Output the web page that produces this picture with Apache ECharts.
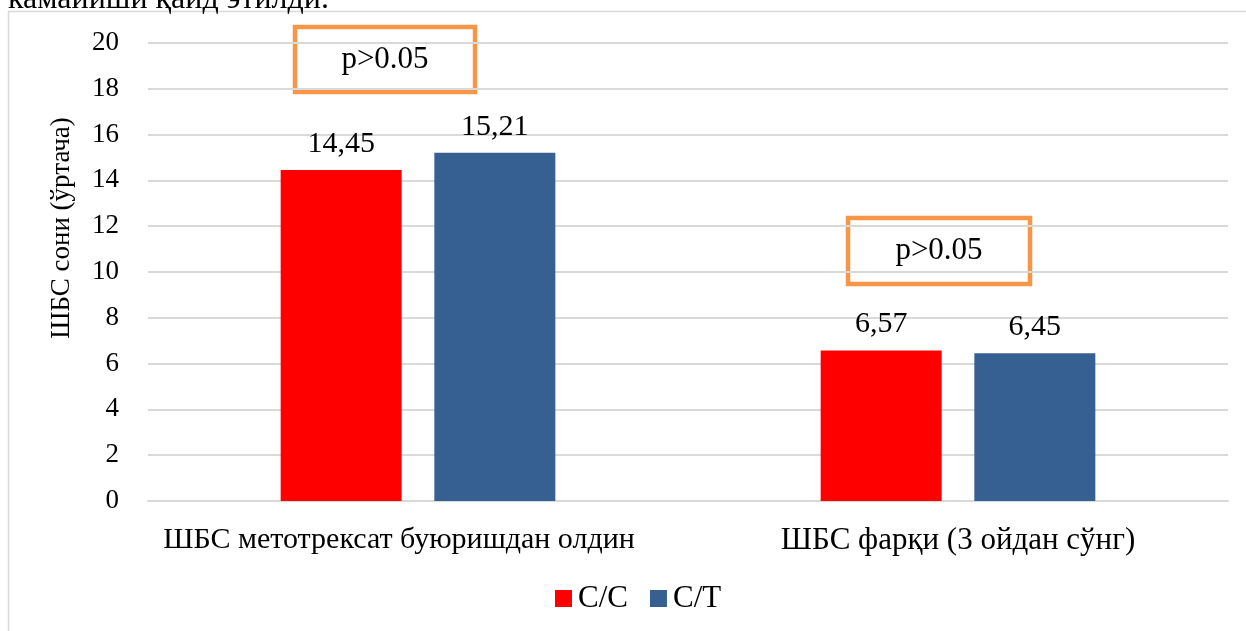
<!DOCTYPE html>
<html><head><meta charset="utf-8">
<script src="https://cdn.jsdelivr.net/npm/echarts@6/dist/echarts.min.js"></script>
<style>html,body{margin:0;padding:0;background:#fff}#c{width:1246px;height:631px}</style>
</head><body><div id="c"></div>
<script>
var categories = ['ШБС метотрексат буюришдан олдин', 'ШБС фарқи (3 ойдан сўнг)'];
var seriesNames = ['C/C', 'C/T'];
var valuesCC = [14.45, 6.57];
var valuesCT = [15.21, 6.45];
var yTicks = [0, 2, 4, 6, 8, 10, 12, 14, 16, 18, 20];
var pLabels = ['p>0.05', 'p>0.05'];

var F = 'Liberation Serif, Times New Roman, serif';
var chart = echarts.init(document.getElementById('c'));
function fmt(p){ return String(p.value).replace('.', ','); }
chart.setOption({
  animation: false,
  backgroundColor: '#fff',
  textStyle: { fontFamily: F },
  grid: { left: 148, right: 18, top: 43, bottom: 130 },
  legend: {
    data: seriesNames, bottom: 12, left: 550, itemWidth: 17, itemHeight: 17, itemGap: 22,
    icon: 'rect',
    textStyle: { fontFamily: F, fontSize: 31, color: '#000', padding: [0,0,0,1] }
  },
  xAxis: {
    type: 'category', data: categories,
    axisLine: { show: true, lineStyle: { color: '#d9d9d9', width: 2 } },
    axisTick: { show: false },
    axisLabel: {
      interval: 0,
      fontFamily: F, fontSize: 31, color: '#000', margin: 24,
      formatter: function(v, i){ return i === 0 ? '{a|' + v + '}' : v; },
      rich: { a: { fontFamily: F, fontSize: 30, color: '#000', padding: [0, 38, 0, 0] } }
    }
  },
  yAxis: {
    type: 'value', min: yTicks[0], max: yTicks[yTicks.length-1], interval: 2,
    axisLine: { show: false }, axisTick: { show: false },
    splitLine: { lineStyle: { color: '#d9d9d9', width: 2 } },
    axisLabel: { fontFamily: F, fontSize: 27, color: '#000', margin: 29 }
  },
  series: [
    { name: seriesNames[0], type: 'bar', data: valuesCC, barWidth: 121, barGap: '27%',
      itemStyle: { color: '#ff0000' },
      label: { show: true, position: 'top', distance: 11, fontFamily: F, fontSize: 30, color: '#000', formatter: fmt } },
    { name: seriesNames[1], type: 'bar', data: valuesCT, barWidth: 121,
      itemStyle: { color: '#376092' },
      label: { show: true, position: 'top', distance: 11, fontFamily: F, fontSize: 30, color: '#000', formatter: fmt } }
  ],
  graphic: [
    { type: 'rect', shape: { x: 8.5, y: 11.5, width: 1400, height: 800 }, style: { fill: null, stroke: '#d9d9d9', lineWidth: 1.5 }, z: -10 },
    { type: 'text', x: 8, y: -16, style: { text: 'камайиши қайд этилди.', font: '32px ' + F, fill: '#000' } },
    { type: 'text', x: 62, y: 228, rotation: Math.PI/2, style: { text: 'ШБС сони (ўртача)', font: '27px ' + F, fill: '#000', align: 'center', verticalAlign: 'middle' } },
    { type: 'rect', shape: { x: 295, y: 27, width: 180, height: 65 }, style: { fill: '#fff', stroke: '#f79646', lineWidth: 4.5 } },
    { type: 'text', x: 385, y: 60, style: { text: pLabels[0], font: '31px ' + F, fill: '#000', align: 'center', verticalAlign: 'middle' } },
    { type: 'rect', shape: { x: 848, y: 218, width: 182, height: 66 }, style: { fill: '#fff', stroke: '#f79646', lineWidth: 4.5 } },
    { type: 'text', x: 939, y: 251, style: { text: pLabels[1], font: '31px ' + F, fill: '#000', align: 'center', verticalAlign: 'middle' } }
  ]
});
</script></body></html>
